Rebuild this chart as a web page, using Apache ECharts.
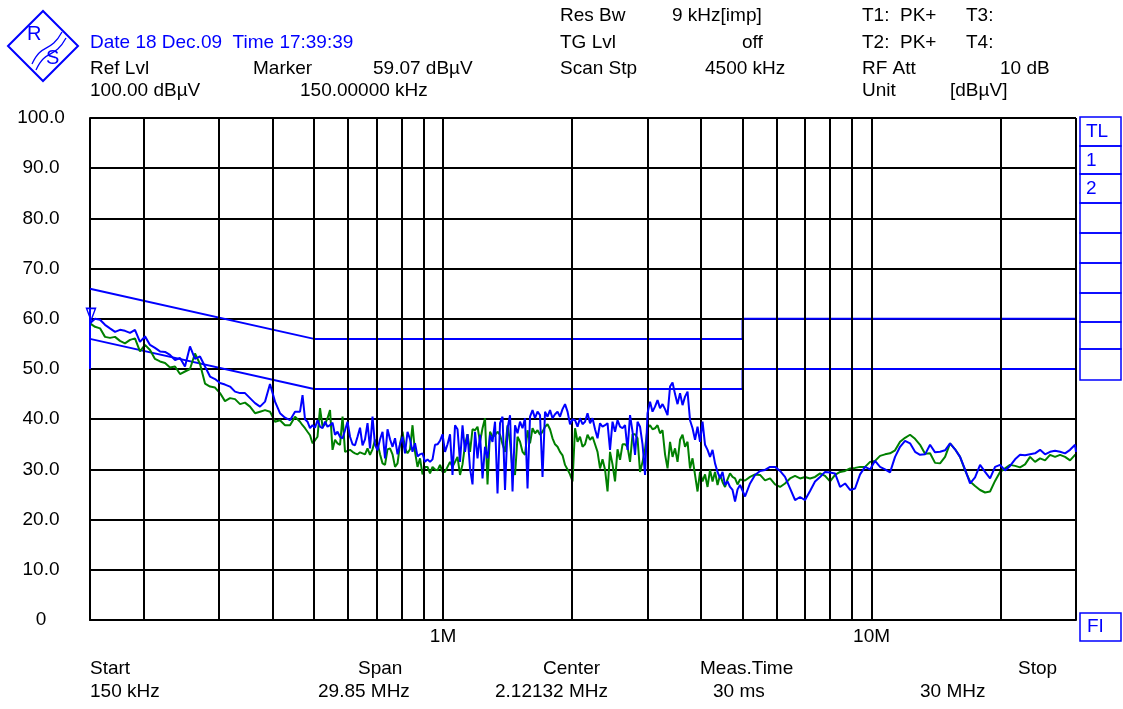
<!DOCTYPE html>
<html><head><meta charset="utf-8">
<script src="https://cdn.jsdelivr.net/npm/echarts@6.0.0/dist/echarts.min.js"></script>
<style>html,body{margin:0;padding:0;background:#fff}#c{width:1123px;height:709px}</style>
</head><body><div id="c"></div>
<script>
// ---------- DATA ----------
// sweep frequencies in kHz
const freqKHz = [
150.0,154.1,158.3,162.6,167.0,171.6,176.2,181.0,186.0,191.0,
196.2,201.6,207.1,212.7,218.5,224.5,230.6,236.9,243.3,249.9,
256.7,263.7,270.9,278.3,285.9,293.7,301.6,309.8,318.3,327.0,
335.9,345.0,354.4,364.1,374.0,384.2,394.6,405.4,416.4,427.8,
439.4,451.4,
463.7,470.0,476.3,482.7, 489.3,495.9,502.6,509.4, 516.3,523.3,530.4,537.5,
544.8,552.2,559.6,567.2, 574.9,582.7,590.6,598.5, 606.6,614.8,623.1,631.6,
640.1,648.8,657.5,666.4, 675.4,684.5,693.8,703.2, 712.7,722.4,732.1,742.0,
752.1,762.3,772.6,783.0, 793.6,804.3,815.2,826.2, 837.4,848.7,860.2,871.8,
883.6,895.5,907.7,919.9, 932.4,945.0,957.8,970.8, 983.9,997.2,1010.7,1024.4,
1038.2,1052.2,1066.5,1080.9, 1095.5,1110.3,1125.3,1140.6, 1156.0,1171.6,1187.5,1203.5,
1219.8,1236.3,1253.0,1270.0, 1287.1,1304.5,1322.2,1340.0, 1358.2,1376.6,1395.2,1414.1,
1433.2,1452.6,1472.2,1492.1, 1512.3,1532.7,1553.5,1574.5, 1595.8,1617.4,1639.3,1661.4,
1683.9,1706.7,1729.8,1753.2, 1776.9,1800.9,1825.3,1850.0, 1875.0,1900.4,1926.1,1952.1,
1978.5,2005.3,2032.4,2059.9, 2087.7,2115.9,2144.6,2173.6, 2203.0,2232.8,2263.0,2293.6,
2324.6,2356.0,2387.9,2420.2, 2452.9,2486.1,2519.7,2553.8, 2588.4,2623.4,2658.9,2694.9,
2731.3,2768.2,2805.7,2843.6, 2882.1,2921.1,2960.6,3000.6, 3041.2,3082.3,3124.0,3166.3,
3209.1,3252.5,3296.5,3341.1, 3386.3,3432.1,3478.5,3525.6, 3573.2,3621.5,3670.5,3720.1,
3770.5,3821.5,3873.2,3925.6, 3978.7,4032.5,4087.0,4142.3, 4198.3,4255.1,4312.6,4370.9,
4430.1,4490.0,4550.7,4612.3, 4674.7,4737.9,4802.0,4866.9, 4932.8,
5067,5205,5347,5493,5642,5796,5954,6116,6282,6453,
6629,6810,6995,7186,7381,7582,7789,8001,8219,8443,
8673,8909,9151,9401,9657,9920,10190,10467,10752,11045,
11346,11655,11972,12298,12633,12977,13331,13694,14067,14450,
14844,15248,15663,16089,16527,16978,17440,17915,18403,18904,
19419,19948,20491,21049,21622,22211,22816,23437,24075,24731,
25404,26097,26807,27537,28287,29057,29849,30000
];
// Trace 1 (PK+), blue
const peakDb = [
59.1,60.0,59.8,58.8,58.1,57.4,57.8,57.6,57.2,57.8,
55.4,56.5,54.8,54.2,53.5,53.4,52.8,51.8,52.2,50.5,
54.5,52.0,52.5,50.5,48.5,48.0,47.2,46.9,46.5,45.5,
45.2,45.2,44.2,43.2,42.5,43.5,47.0,43.5,41.2,40.3,
39.8,41.5,
41.5,44.8,40.0,39.5, 38.2,38.8,38.3,39.8, 38.5,38.2,39.5,38.5,
38.8,39.3,36.9,37.5, 36.5,36.2,37.8,39.5, 36.5,35.0,34.8,36.5,
38.3,34.8,36.0,39.2, 34.2,40.5,34.9,33.8, 36.0,37.5,32.2,38.0,
36.0,34.5,36.2,33.0, 35.0,36.5,33.2,37.5, 36.0,33.5,35.2,32.6,
33.0,33.2,31.5,32.0, 31.5,32.0,34.9,35.0, 35.7,37.0,33.5,35.0,
37.0,28.9,38.8,38.0, 31.5,38.8,33.5,37.0, 30.2,27.0,37.5,32.2,
36.9,28.2,34.5,32.2, 36.9,35.5,39.5,25.2, 39.2,40.5,25.9,38.2,
40.8,25.6,38.8,37.2, 39.5,38.2,40.2,26.2, 40.5,41.8,40.2,41.5,
40.8,28.5,41.5,40.5, 41.8,40.2,41.0,41.5, 40.5,42.0,43.0,41.5,
39.0,40.0,39.8,38.5, 40.2,39.0,39.5,41.2, 39.2,40.2,38.0,36.2,
39.2,38.5,38.8,39.2, 33.9,39.5,37.5,39.8, 38.5,38.2,38.8,33.9,
40.8,37.5,32.9,39.5, 38.5,35.0,28.9,41.2, 43.5,41.5,42.5,43.8,
42.2,43.0,42.0,40.8, 46.5,47.3,45.0,43.0, 45.2,42.8,44.5,45.5,
39.8,38.2,35.9,38.5, 35.5,39.5,34.9,33.9, 32.5,33.9,31.2,29.5,
28.2,29.5,26.9,27.6, 26.5,25.9,23.6,26.0, 26.9,
24.6,27.2,28.9,29.7,29.9,30.5,30.5,29.7,28.5,26.2,
23.9,24.5,23.9,25.7,27.6,28.5,29.5,29.4,29.2,26.5,
27.2,25.9,26.2,29.0,30.5,30.0,31.7,30.5,30.0,29.4,
32.5,34.5,35.7,35.2,33.5,32.9,33.0,34.9,33.4,33.5,
33.8,35.2,34.0,32.5,30.0,27.2,28.4,30.9,29.5,28.2,
30.5,30.9,29.8,30.7,32.0,32.9,32.8,33.0,33.2,33.9,
33.0,33.5,33.7,33.5,33.2,33.9,34.9,33.5
];
// Trace 2 (PK+), green
const avgDb = [
59.1,58.4,58.1,56.4,56.2,56.4,55.6,55.1,55.8,56.1,
53.5,54.8,53.8,52.0,51.5,51.2,50.3,50.5,49.0,49.5,
50.0,53.1,51.0,47.1,46.5,46.3,45.2,43.6,44.2,44.0,
43.0,43.3,42.5,41.2,41.5,41.8,41.5,39.5,39.8,38.8,
38.8,40.5,
39.5,38.8,38.2,37.5, 36.8,35.2,35.8,36.5, 42.2,38.5,39.0,40.2,
41.8,33.9,35.9,35.2, 34.9,40.5,33.5,33.7, 33.9,33.5,33.2,33.0,
33.4,33.2,33.0,34.2, 32.9,34.0,35.9,35.2, 33.0,31.2,30.9,34.0,
34.2,33.0,30.5,31.2, 35.0,37.5,34.2,33.2, 34.0,38.8,33.5,30.5,
32.2,29.0,30.5,30.5, 29.2,30.5,30.0,29.8, 30.9,29.5,29.5,30.5,
31.5,30.5,31.5,32.5, 28.9,31.0,34.9,37.0, 33.5,38.0,37.8,38.5,
35.5,38.2,40.2,27.0, 37.5,36.5,36.8,37.5, 36.9,35.0,33.5,38.8,
35.5,30.0,28.9,36.5, 35.5,33.5,32.9,37.8, 35.2,38.2,37.2,37.8,
36.9,37.5,38.5,39.0, 38.0,36.2,35.0,34.5, 33.5,32.8,30.9,30.0,
29.0,27.6,38.2,35.5, 36.5,34.5,35.0,36.9, 35.9,36.5,35.0,33.5,
30.2,32.0,30.0,25.6, 33.5,31.0,27.6,34.0, 31.9,35.0,35.0,34.5,
31.5,37.0,37.0,36.2, 29.5,31.5,34.0,38.2, 38.8,38.0,38.2,38.8,
37.2,37.8,33.0,30.2, 35.5,32.5,34.2,31.5, 35.9,36.9,34.5,35.5,
30.2,32.2,28.9,25.6, 29.5,27.6,29.0,26.5, 29.9,27.6,29.5,26.9,
28.9,27.5,26.5,28.0, 29.2,28.5,28.2,27.0, 28.0,
27.8,28.5,29.0,28.9,27.8,28.2,27.0,26.5,27.2,28.2,
28.7,28.2,28.5,28.2,28.5,29.2,28.7,27.6,28.9,29.5,
29.7,30.2,30.3,30.5,30.5,31.5,31.7,32.7,33.0,33.2,
33.8,35.5,36.3,36.9,36.1,34.9,33.1,33.2,31.3,31.2,
32.5,35.2,34.0,32.5,29.8,27.6,26.7,25.9,25.4,25.6,
27.7,29.5,30.2,30.9,30.7,30.4,31.0,32.5,31.5,32.2,
31.8,32.9,32.5,32.9,32.5,31.8,32.9,33.0
];
// Limit lines: QP and AV
const qpLimitFreq = [150, 500, 5000, 5000, 30000];
const qpLimitDb   = [66, 56, 56, 60, 60];
const avLimitFreq = [150, 500, 5000, 5000, 30000];
const avLimitDb   = [56, 46, 46, 50, 50];
// vertical grid frequencies (kHz)
const gridFreqKHz = [200,300,400,500,600,700,800,900,1000,2000,3000,4000,5000,6000,7000,8000,9000,10000,20000,30000];
// x tick labels
const xTickFreq = [1000, 10000];
const xTickText = ['1M', '10M'];
// marker
const markerFreq = 150, markerDb = 59.07;
const markerLineDb = [50, 62];

// ---------- CHART ----------
const F = "'Liberation Sans', Arial, sans-serif";
const BLUE = '#0000ff', GREEN = '#008000';
const chart = echarts.init(document.getElementById('c'), null, {renderer: 'canvas'});

const pair = (fs, vs) => fs.map((f, i) => [f, vs[i]]);

function txt(x, y, s, color, size) {
  return {type: 'text', x: x, y: y, silent: true,
    style: {text: s, fill: color || '#000', fontSize: size || 19, fontFamily: F, verticalAlign: 'middle', align: 'left'}};
}
const header = [
  [560, 16, 'Res Bw'], [672, 16, '9 kHz[imp]'], [862, 16, 'T1:  PK+'], [966, 16, 'T3:'],
  [560, 43, 'TG Lvl'], [742, 43, 'off'], [862, 43, 'T2:  PK+'], [966, 43, 'T4:'],
  [90, 69, 'Ref Lvl'], [253, 69, 'Marker'], [373, 69, '59.07 dBµV'],
  [560, 69, 'Scan Stp'], [705, 69, '4500 kHz'], [862, 69, 'RF Att'], [1000, 69, '10 dB'],
  [90, 91, '100.00 dBµV'], [300, 91, '150.00000 kHz'], [862, 91, 'Unit'], [950, 91, '[dBµV]'],
  [90, 669, 'Start'], [358, 669, 'Span'], [543, 669, 'Center'], [700, 669, 'Meas.Time'], [1018, 669, 'Stop'],
  [90, 692, '150 kHz'], [318, 692, '29.85 MHz'], [495, 692, '2.12132 MHz'], [713, 692, '30 ms'], [920, 692, '30 MHz']
];
const graphics = header.map(h => txt(h[0], h[1], h[2]));
graphics.push(txt(90, 43, 'Date 18 Dec.09  Time 17:39:39', BLUE));

// side panel boxes
const boxEdges = [117, 146, 174, 203, 233, 263, 293, 322, 349, 380];
for (let i = 0; i < boxEdges.length - 1; i++) {
  graphics.push({type: 'rect', silent: true, shape: {x: 1080, y: boxEdges[i], width: 41, height: boxEdges[i + 1] - boxEdges[i]},
    style: {fill: 'none', stroke: BLUE, lineWidth: 1.5}});
}
graphics.push(txt(1086, 132, 'TL', BLUE));
graphics.push(txt(1086, 161, '1', BLUE));
graphics.push(txt(1086, 189, '2', BLUE));
graphics.push({type: 'rect', silent: true, shape: {x: 1080, y: 613, width: 41, height: 28}, style: {fill: 'none', stroke: BLUE, lineWidth: 1.5}});
graphics.push(txt(1087, 627, 'FI', BLUE));

// R&S logo
graphics.push({type: 'polygon', silent: true, shape: {points: [[8, 46], [43, 11], [78, 46], [43, 81]]},
  style: {fill: 'none', stroke: BLUE, lineWidth: 2}});
graphics.push({type: 'text', x: 27, y: 34, silent: true, style: {text: 'R', fill: BLUE, fontSize: 20, fontFamily: F, verticalAlign: 'middle'}});
graphics.push({type: 'text', x: 46, y: 58, silent: true, style: {text: 'S', fill: BLUE, fontSize: 20, fontFamily: F, verticalAlign: 'middle'}});
graphics.push({type: 'bezierCurve', silent: true, shape: {x1: 32, y1: 64, x2: 62, y2: 32, cpx1: 42, cpy1: 42, cpx2: 50, cpy2: 54}, style: {fill: 'none', stroke: BLUE, lineWidth: 1.3}});
graphics.push({type: 'bezierCurve', silent: true, shape: {x1: 36, y1: 70, x2: 66, y2: 38, cpx1: 46, cpy1: 48, cpx2: 54, cpy2: 60}, style: {fill: 'none', stroke: BLUE, lineWidth: 1.3}});

const option = {
  animation: false,
  backgroundColor: '#fff',
  textStyle: {fontFamily: F},
  grid: {left: 90, right: 47, top: 118, bottom: 89, containLabel: false},
  xAxis: {
    type: 'log', logBase: 10, min: 150, max: 30000,
    axisLine: {show: true, lineStyle: {color: '#000', width: 2}},
    axisTick: {show: false},
    splitLine: {show: false},
    minorTick: {show: false}, minorSplitLine: {show: false},
    axisLabel: {
      show: true, color: '#000', fontSize: 19, fontFamily: F, margin: 7,
      showMinLabel: false, showMaxLabel: false,
      formatter: v => { const i = xTickFreq.findIndex(t => Math.abs(t - v) < 1e-6 * t); return i >= 0 ? xTickText[i] : ''; }
    }
  },
  yAxis: {
    type: 'value', min: 0, max: 100, interval: 10,
    axisLine: {show: true, lineStyle: {color: '#000', width: 2}},
    axisTick: {show: false},
    splitLine: {show: true, lineStyle: {color: '#000', width: 2}},
    axisLabel: {color: '#000', fontSize: 19, fontFamily: F, align: 'center', margin: 49,
      formatter: v => v === 0 ? '0' : v.toFixed(1)}
  },
  graphic: graphics,
  series: [
    {
      name: 'grid', type: 'line', data: [], silent: true,
      markLine: {silent: true, symbol: ['none', 'none'], animation: false,
        label: {show: false}, lineStyle: {color: '#000', width: 2, type: 'solid'},
        data: gridFreqKHz.map(f => ({xAxis: f}))}
    },
    {name: 'QP limit', type: 'line', data: pair(qpLimitFreq, qpLimitDb), showSymbol: false, symbol: 'none',
      lineStyle: {color: BLUE, width: 2}, z: 3},
    {name: 'AV limit', type: 'line', data: pair(avLimitFreq, avLimitDb), showSymbol: false, symbol: 'none',
      lineStyle: {color: BLUE, width: 2}, z: 3},
    {name: 'Trace 2', type: 'line', data: pair(freqKHz, avgDb), showSymbol: false, symbol: 'none',
      lineStyle: {color: GREEN, width: 2}, z: 4},
    {name: 'Trace 1', type: 'line', data: pair(freqKHz, peakDb), showSymbol: false, symbol: 'none',
      lineStyle: {color: BLUE, width: 2}, z: 5,
      markLine: {silent: true, symbol: ['none', 'none'], label: {show: false},
        lineStyle: {color: BLUE, width: 2, type: 'solid'},
        data: [[{coord: [markerFreq, markerLineDb[0]]}, {coord: [markerFreq, markerLineDb[1]]}]]},
      markPoint: {silent: true, symbol: 'triangle', symbolSize: [9, 12], symbolRotate: 180, symbolOffset: [1, -9],
        label: {show: false},
        itemStyle: {color: 'rgba(0,0,0,0)', borderColor: BLUE, borderWidth: 1.5},
        data: [{coord: [markerFreq, markerDb]}]}
    }
  ]
};
chart.setOption(option);
</script></body></html>
